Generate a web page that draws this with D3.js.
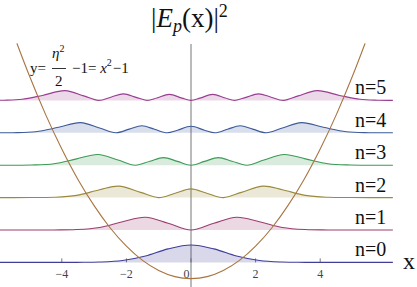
<!DOCTYPE html>
<html>
<head>
<meta charset="utf-8">
<script src="https://cdn.jsdelivr.net/npm/d3@7"></script>
<style>
body { margin: 0; background: #fff; }
svg { display: block; }
text { font-family: "Liberation Serif", "DejaVu Serif", serif; }
</style>
</head>
<body>
<svg id="chart" width="417" height="287"></svg>
<script>
// energy levels and labels
const levels = [0, 1, 2, 3, 4, 5];
const levelLabels = ["n=0", "n=1", "n=2", "n=3", "n=4", "n=5"];

// right half of each |E_n(x)|^2 curve (the curves are symmetric)
const dens0X = [0, 0.71, 1.41, 2.12, 2.83, 3.54, 6.25];
const dens0H = [0.536, 0.417, 0.197, 0.057, 0.010, 0.001, 0];
const dens1X = [0, 0.71, 1.41, 2.12, 2.83, 3.54, 4.24, 6.25];
const dens1H = [0, 0.209, 0.394, 0.254, 0.078, 0.013, 0.001, 0];
const dens2X = [0, 0.49, 1.0, 1.56, 2.24, 2.83, 3.54, 4.24, 4.95, 6.25];
const dens2H = [0.268, 0.135, 0, 0.161, 0.352, 0.240, 0.068, 0.010, 0.001, 0];
const dens3X = [0, 0.42, 0.85, 1.27, 1.73, 2.26, 2.88, 3.54, 4.24, 4.95, 6.25];
const dens3H = [0, 0.117, 0.233, 0.123, 0, 0.159, 0.328, 0.194, 0.045, 0.005, 0];
const dens4X = [0, 0.42, 0.74, 1.13, 1.52, 1.91, 2.33, 2.83, 3.42, 4.10, 4.81, 5.52, 6.25];
const dens4H = [0.201, 0.078, 0, 0.109, 0.215, 0.113, 0, 0.148, 0.312, 0.170, 0.034, 0.003, 0];
const dens5X = [0, 0.28, 0.67, 1.06, 1.36, 1.70, 2.09, 2.48, 2.86, 3.32, 3.90, 4.60, 5.23, 5.80, 6.25];
const dens5H = [0, 0.069, 0.184, 0.072, 0, 0.093, 0.202, 0.098, 0, 0.139, 0.301, 0.153, 0.033, 0.005, 0];

// the potential curve y = x^2 - 1 as drawn
const parabX = [-5.39, -5.0, -4.5, -4.0, -3.5, -3.0, -2.5, -2.0, -1.5, -1.0, -0.5, 0,
                0.5, 1.0, 1.5, 2.0, 2.5, 3.0, 3.5, 4.0, 4.5, 5.0, 5.39];
const parabY = [6.76, 5.75, 4.56, 3.5, 2.56, 1.75, 1.06, 0.5, 0.06, -0.25, -0.44, -0.5,
                -0.44, -0.25, 0.06, 0.5, 1.06, 1.75, 2.56, 3.5, 4.56, 5.75, 6.76];

const tickValues = [-4, -2, 0, 2, 4];

const densX = [dens0X, dens1X, dens2X, dens3X, dens4X, dens5X];
const densH = [dens0H, dens1H, dens2H, dens3H, dens4H, dens5H];

const lineColors = ["#3f3d99", "#993d71", "#998b3d", "#3d9956", "#3d5a99", "#993d90"];

const svg = d3.select("#chart");

const x = d3.scaleLinear().domain([-6.25, 6.25]).range([191 - 6.25 * 32.3, 191 + 6.25 * 32.3]);
const y = d3.scaleLinear().domain([-0.76, 6.74]).range([287, 44]);

// mirror a half curve into full points
function fullCurve(xs, hs) {
	let pts = [];
	for (let i = xs.length - 1; i > 0; i--) pts.push([-xs[i], hs[i]]);
	for (let i = 0; i < xs.length; i++) pts.push([xs[i], hs[i]]);
	return pts;
}

// vertical axis
svg.append("line")
	.attr("x1", x(0)).attr("x2", x(0))
	.attr("y1", y(6.74)).attr("y2", 287)
	.attr("stroke", "#777").attr("stroke-width", 1);

// x ticks
svg.selectAll(".tick")
	.data(tickValues)
	.enter().append("line")
	.attr("x1", d => x(d)).attr("x2", d => x(d))
	.attr("y1", y(0)).attr("y2", y(0) - 4)
	.attr("stroke", "#777");

svg.selectAll(".ticklabel")
	.data(tickValues)
	.enter().append("text")
	.attr("x", d => d === 0 ? x(d) - 4.5 : x(d))
	.attr("y", 278)
	.attr("text-anchor", "middle")
	.attr("font-size", 12)
	.attr("fill", "#444")
	.text(d => d < 0 ? "\u2212" + Math.abs(d) : d);

levels.forEach(function(n, i){
	let pts = fullCurve(densX[i], densH[i]);
	let area = d3.area()
		.x(d => x(d[0]))
		.y0(y(n))
		.y1(d => y(n + Math.max(0, d[1])))
		.curve(d3.curveCatmullRom.alpha(0.5));
	let line = d3.line()
		.x(d => x(d[0]))
		.y(d => y(n + d[1]))
		.curve(d3.curveCatmullRom.alpha(0.5));

	svg.append("path")
		.attr("d", area(pts))
		.attr("fill", lineColors[i])
		.attr("fill-opacity", 0.2);
	svg.append("path")
		.attr("d", line(pts))
		.attr("fill", "none")
		.attr("stroke", lineColors[i])
		.attr("stroke-width", 1.1);

	svg.append("text")
		.attr("x", 355)
		.attr("y", y(n) - 6)
		.attr("font-size", 20)
		.attr("fill", "#111")
		.text(levelLabels[i]);
});

// parabola
svg.append("path")
	.attr("d", d3.line()
		.x((d, i) => x(d))
		.y((d, i) => y(parabY[i]))
		.curve(d3.curveNatural)(parabX))
	.attr("fill", "none")
	.attr("stroke", "#a87440")
	.attr("stroke-width", 1.1);

// axis label
svg.append("text")
	.attr("x", 403).attr("y", 269)
	.attr("font-size", 24)
	.attr("fill", "#111")
	.text("x");

// title |E_p(x)|^2
let title = svg.append("text")
	.attr("x", 151).attr("y", 27)
	.attr("font-size", 27)
	.attr("fill", "#111");
title.append("tspan").text("|");
title.append("tspan").attr("font-style", "italic").text("E");
title.append("tspan").attr("font-style", "italic").attr("font-size", 18).attr("dy", 5).text("p");
title.append("tspan").attr("dy", -5).text("(x)|");
title.append("tspan").attr("font-size", 18).attr("dy", -10).text("2");

// formula label y = eta^2/2 - 1 = x^2 - 1
let f = svg.append("g").attr("fill", "#111").attr("font-size", 15);
f.append("text").attr("x", 30).attr("y", 73).text("y=");
let eta = f.append("text").attr("x", 52).attr("y", 58);
eta.append("tspan").attr("font-style", "italic").text("\u03b7");
eta.append("tspan").attr("font-size", 10).attr("dy", -6).text("2");
f.append("line").attr("x1", 52).attr("x2", 66).attr("y1", 68.5).attr("y2", 68.5)
	.attr("stroke", "#333").attr("stroke-width", 1);
f.append("text").attr("x", 55).attr("y", 86).text("2");
let rhs = f.append("text").attr("x", 72).attr("y", 73);
rhs.append("tspan").text("\u22121= ");
rhs.append("tspan").attr("font-style", "italic").text("x");
rhs.append("tspan").attr("font-size", 10).attr("dy", -7).text("2");
rhs.append("tspan").attr("dy", 7).attr("dx", 1).text("\u22121");
</script>
</body>
</html>
